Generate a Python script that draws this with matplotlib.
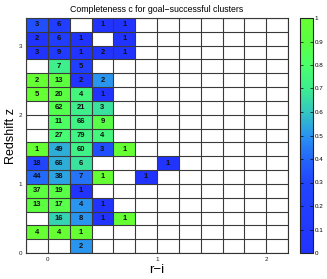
import numpy as np
import matplotlib
matplotlib.use("Agg")
import matplotlib.pyplot as plt
from matplotlib.colors import LinearSegmentedColormap

plt.rcParams["font.family"] = ["Liberation Sans", "DejaVu Sans"]

"Bin edges"
ri_edges = np.linspace(-0.2, 2.2, 13)
z_edges = np.linspace(0.0, 3.4, 18)

"Number of clusters per bin, rows from z=0 upwards (None = empty)"
counts = [
    [None, None, 2],
    [4, 4, 1],
    [None, 16, 8, 1, 1],
    [13, 17, 4, 1],
    [37, 19, 1],
    [44, 38, 7, 1, None, 1],
    [18, 66, 6, None, None, None, 1],
    [1, 49, 60, 3, 1],
    [None, 27, 79, 4],
    [None, 11, 66, 9],
    [None, 62, 21, 3],
    [5, 20, 4, 1],
    [2, 13, 2, 2],
    [None, 7, 5],
    [3, 9, 1, 2, 1],
    [2, 6, 1, None, 1],
    [3, 6, None, 1, 1],
]

"Completeness per bin (same layout)"
completeness = [
    [None, None, 0.5],
    [1.0, 1.0, 1.0],
    [None, 0.63, 0.5, 0.0, 1.0],
    [0.92, 0.88, 0.5, 0.0],
    [0.92, 0.89, 0.0],
    [0.41, 0.53, 0.43, 1.0, None, 0.0],
    [0.30, 0.55, 0.67, None, None, None, 0.0],
    [1.0, 0.55, 0.72, 0.33, 1.0],
    [None, 0.78, 0.73, 0.75],
    [None, 0.82, 0.73, 0.89],
    [None, 0.87, 0.71, 0.67],
    [1.0, 0.90, 0.75, 0.0],
    [1.0, 0.92, 0.0, 0.5],
    [None, 0.71, 0.2],
    [0.0, 0.11, 0.0, 0.0, 0.0],
    [0.0, 0.17, 0.0, None, 0.0],
    [0.33, 0.17, None, 0.0, 0.0],
]

ncol = len(ri_edges) - 1
nrow = len(z_edges) - 1
C = np.full((nrow, ncol), np.nan)
for i, row in enumerate(completeness):
    for j, v in enumerate(row):
        if v is not None:
            C[i, j] = v

cmap = LinearSegmentedColormap.from_list("compl", [
    (0.0, (0.13, 0.20, 1.00)),
    (0.3, (0.13, 0.27, 1.00)),
    (0.4, (0.14, 0.40, 0.98)),
    (0.5, (0.16, 0.58, 0.94)),
    (0.6, (0.20, 0.78, 0.76)),
    (0.7, (0.24, 0.93, 0.56)),
    (0.8, (0.29, 1.00, 0.42)),
    (0.9, (0.35, 1.00, 0.26)),
    (1.0, (0.40, 1.00, 0.20)),
])

W, H = 327, 279
fig = plt.figure(figsize=(W / 100, H / 100), dpi=100)
ax = fig.add_axes([26 / W, 1 - 253 / H, 262 / W, 235 / H])
cax = fig.add_axes([300 / W, 1 - 253 / H, 13 / W, 235 / H])

mesh = ax.pcolormesh(ri_edges, z_edges, np.ma.masked_invalid(C), cmap=cmap,
                     vmin=0, vmax=1)

"Cell grid"
for x in ri_edges:
    ax.axvline(x, color="#3a3a3a", lw=0.8, zorder=3)
for y in z_edges:
    ax.axhline(y, color="#3a3a3a", lw=0.8, zorder=3)

"Counts in cells"
for i, row in enumerate(counts):
    for j, n in enumerate(row):
        if n is not None:
            xc = 0.5 * (ri_edges[j] + ri_edges[j + 1])
            yc = 0.5 * (z_edges[i] + z_edges[i + 1])
            ax.text(xc, yc, str(n), ha="center", va="center", fontsize=5.5,
                    color="#111111", fontweight="bold", zorder=4)

ax.set_xlim(ri_edges[0], ri_edges[-1])
ax.set_ylim(z_edges[0], z_edges[-1])
ax.set_xticks([0, 1, 2])
ax.set_yticks([0, 1, 2, 3])
ax.tick_params(direction="in", length=2, width=0.6, labelsize=4.5, pad=3,
               colors="#222222")
for s in ax.spines.values():
    s.set_color("#333333")
    s.set_linewidth(0.8)

ax.set_title("Completeness c for goal\u2212successful clusters", fontsize=6.3,
             pad=4)
ax.set_xlabel("r\u2212i", fontsize=9.5, labelpad=1)
ax.set_ylabel("Redshift z", fontsize=9, labelpad=1)

cb = fig.colorbar(mesh, cax=cax, ticks=np.linspace(0, 1, 11))
cb.ax.set_yticklabels(["0", "0.1", "0.2", "0.3", "0.4", "0.5", "0.6", "0.7",
                       "0.8", "0.9", "1"])
cb.ax.tick_params(direction="in", length=2, width=0.5, labelsize=4.5, pad=1,
                  left=True)
cb.outline.set_linewidth(0.8)
cb.outline.set_edgecolor("#222222")

fig.savefig("out.png", dpi=100)
